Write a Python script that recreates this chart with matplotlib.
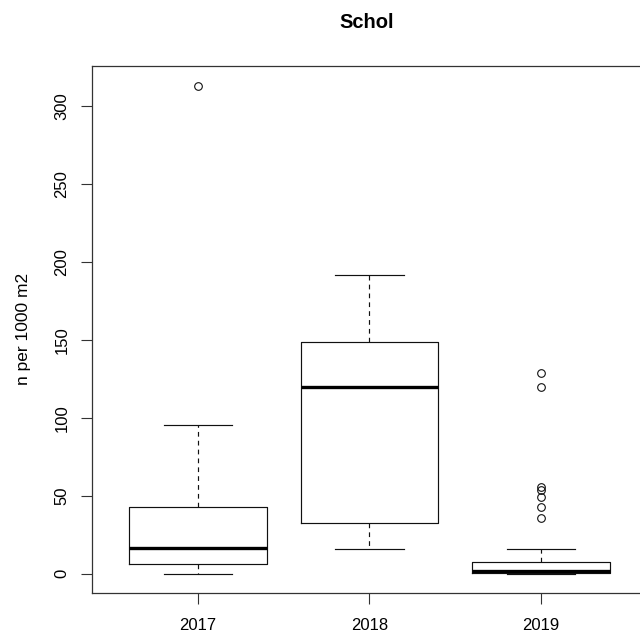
import matplotlib
matplotlib.use("Agg")
import matplotlib.pyplot as plt

plt.rcParams['font.family'] = ['Liberation Sans', 'DejaVu Sans']

# Data
years = ["2017", "2018", "2019"]
whislo = [0.0, 15.8, 0.0]
q1 = [6.2, 32.5, 0.6]
med = [16.5, 119.7, 1.9]
q3 = [42.8, 148.6, 7.2]
whishi = [95.3, 191.5, 15.8]
fliers_2017 = [312.6]
fliers_2018 = []
fliers_2019 = [128.5, 119.9, 55.8, 53.7, 49.0, 42.6, 35.5]
fliers = [fliers_2017, fliers_2018, fliers_2019]

title = "Schol"
ylabel = "n per 1000 m2"

stats = []
for i, y in enumerate(years):
    stats.append(dict(label=y, whislo=whislo[i], q1=q1[i], med=med[i],
                      q3=q3[i], whishi=whishi[i], fliers=fliers[i]))

fig = plt.figure(figsize=(6.4, 6.35), dpi=100)
ax = fig.add_axes([91.7 / 640, 1 - 593 / 635, (647.3 - 91.7) / 640, (593 - 65.7) / 635])

lc = "#111111"
ax.bxp(stats, positions=[1, 2, 3], widths=0.8, patch_artist=False,
       boxprops=dict(color=lc, linewidth=0.85),
       whiskerprops=dict(color=lc, linewidth=0.85, linestyle=(0, (4, 3.5))),
       capprops=dict(color=lc, linewidth=0.85),
       medianprops=dict(color="black", linewidth=2.4, solid_capstyle="butt"),
       flierprops=dict(marker="o", markersize=5.5, markerfacecolor="none",
                       markeredgecolor=lc, markeredgewidth=0.8, linestyle="none"),
       manage_ticks=False)

ax.set_xlim(0.38, 3.62)
ax.set_ylim(-12.4, 325.6)
ax.set_xticks([1, 2, 3])
ax.set_xticklabels(years)
ax.set_yticks([0, 50, 100, 150, 200, 250, 300])
ax.set_yticklabels(["0", "50", "100", "150", "200", "250", "300"], rotation=90, va="center")

for s in ax.spines.values():
    s.set_color("#333333")
    s.set_linewidth(0.9)

ax.tick_params(axis="both", direction="out", length=8, width=0.8, color="#333333",
               labelsize=12, labelcolor="black")
ax.tick_params(axis="y", pad=8)
ax.tick_params(axis="x", pad=10)

ax.set_ylabel(ylabel, fontsize=12.5, labelpad=17)
fig.text(367 / 640, 1 - 23 / 635, title, fontsize=14.5, fontweight="bold",
         ha="center", va="center")

fig.savefig("out.png", dpi=100)
